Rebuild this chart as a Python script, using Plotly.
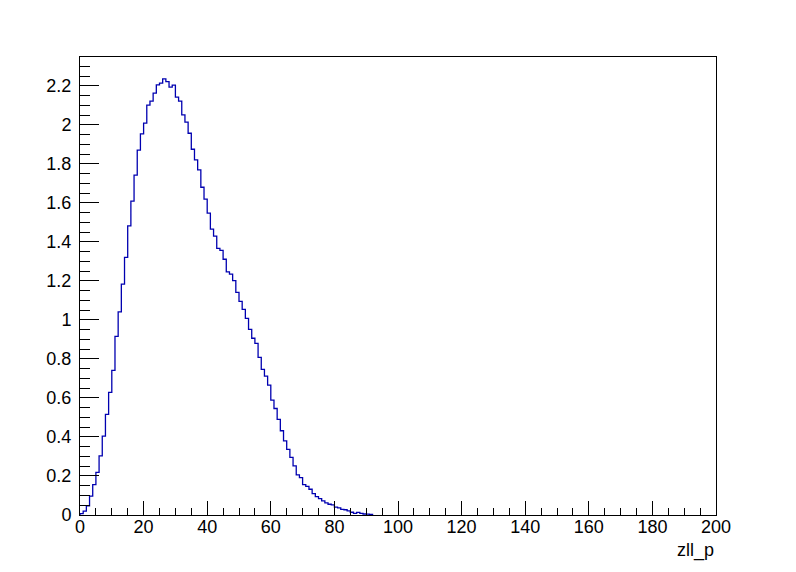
import plotly.graph_objects as go

# Histogram zll_p: 200 bins from 0 to 200 (bin width 1)
bin_low = 0
bin_high = 200
n_bins = 200

# bin contents for bins 0..91 (rest are empty)
counts_nonzero = [
    0.007, 0.020, 0.047, 0.097, 0.156, 0.218, 0.303, 0.404, 0.516, 0.629,
    0.741, 0.916, 1.041, 1.183, 1.321, 1.482, 1.609, 1.742, 1.870, 1.954,
    2.009, 2.101, 2.122, 2.163, 2.205, 2.214, 2.236, 2.222, 2.193, 2.204,
    2.142, 2.122, 2.051, 2.014, 1.957, 1.875, 1.820, 1.769, 1.680, 1.619,
    1.547, 1.465, 1.430, 1.367, 1.357, 1.311, 1.246, 1.235, 1.201, 1.141,
    1.095, 1.054, 1.008, 0.952, 0.906, 0.880, 0.808, 0.747, 0.712, 0.666,
    0.589, 0.546, 0.490, 0.432, 0.380, 0.336, 0.295, 0.252, 0.206, 0.192,
    0.156, 0.147, 0.132, 0.110, 0.094, 0.084, 0.072, 0.062, 0.055, 0.052,
    0.040, 0.037, 0.029, 0.027, 0.021, 0.014, 0.008, 0.013, 0.008, 0.005,
    0.004, 0.003,
]
counts = counts_nonzero + [0.0] * (n_bins - len(counts_nonzero))

x_tick_vals = [0, 20, 40, 60, 80, 100, 120, 140, 160, 180, 200]
y_tick_vals = [0, 0.2, 0.4, 0.6, 0.8, 1.0, 1.2, 1.4, 1.6, 1.8, 2.0, 2.2]
y_tick_text = ["0", "0.2", "0.4", "0.6", "0.8", "1", "1.2", "1.4", "1.6", "1.8", "2", "2.2"]
x_title = "zll_p"

width = (bin_high - bin_low) / n_bins
edges = [bin_low + i * width for i in range(n_bins + 1)]

# draw contour up to the last filled bin (empty bins lie on the axis line)
last = max(i for i, c in enumerate(counts) if c > 0)
xs = [edges[0]] + edges[:last + 1] + [edges[last + 1], edges[last + 1]]
ys = [0.0] + counts[:last + 1] + [counts[last], 0.0]

fig = go.Figure()
fig.add_trace(go.Scatter(
    x=xs, y=ys, mode="lines",
    line=dict(color="#0000b0", width=1.3, shape="hv"),
    hoverinfo="skip", showlegend=False,
))

font = dict(family="Liberation Sans, Arial, Helvetica, sans-serif", size=18, color="black")
ymax = 1.05 * max(counts)

fig.update_layout(
    width=796, height=572, autosize=False,
    margin=dict(l=80, r=80, t=57, b=57, pad=0),
    paper_bgcolor="white", plot_bgcolor="white",
    font=font,
    xaxis=dict(
        range=[bin_low, bin_high], showgrid=False, zeroline=False,
        showline=True, linecolor="black", linewidth=1, mirror=True,
        ticks="inside", ticklen=14, tickwidth=1, tickcolor="black",
        tickvals=x_tick_vals, ticktext=[str(v) for v in x_tick_vals],
        minor=dict(ticks="inside", ticklen=7, dtick=5, tick0=0, tickcolor="black", showgrid=False),
        tickfont=font,
        ticklabelstandoff=-5,
        automargin=False,
    ),
    yaxis=dict(
        range=[0, ymax], showgrid=False, zeroline=False,
        showline=True, linecolor="black", linewidth=1, mirror=True,
        ticks="inside", ticklen=19, tickwidth=1, tickcolor="black",
        tickvals=y_tick_vals, ticktext=y_tick_text,
        minor=dict(ticks="inside", ticklen=10, dtick=0.05, tick0=0, tickcolor="black", showgrid=False),
        tickfont=font,
        ticklabelstandoff=4,
        automargin=False,
    ),
    annotations=[dict(
        text=x_title, xref="paper", yref="paper", x=1, y=-0.05,
        xanchor="right", yanchor="top", showarrow=False, font=font,
    )],
)

fig.write_html("out.html", config={"displayModeBar": False})

# remove the default page margin so the figure sits at the window origin
with open("out.html", "r", encoding="utf-8") as f:
    html = f.read()
html = html.replace("<head>", "<head><style>html,body{margin:0;padding:0;}</style>", 1)
with open("out.html", "w", encoding="utf-8") as f:
    f.write(html)
